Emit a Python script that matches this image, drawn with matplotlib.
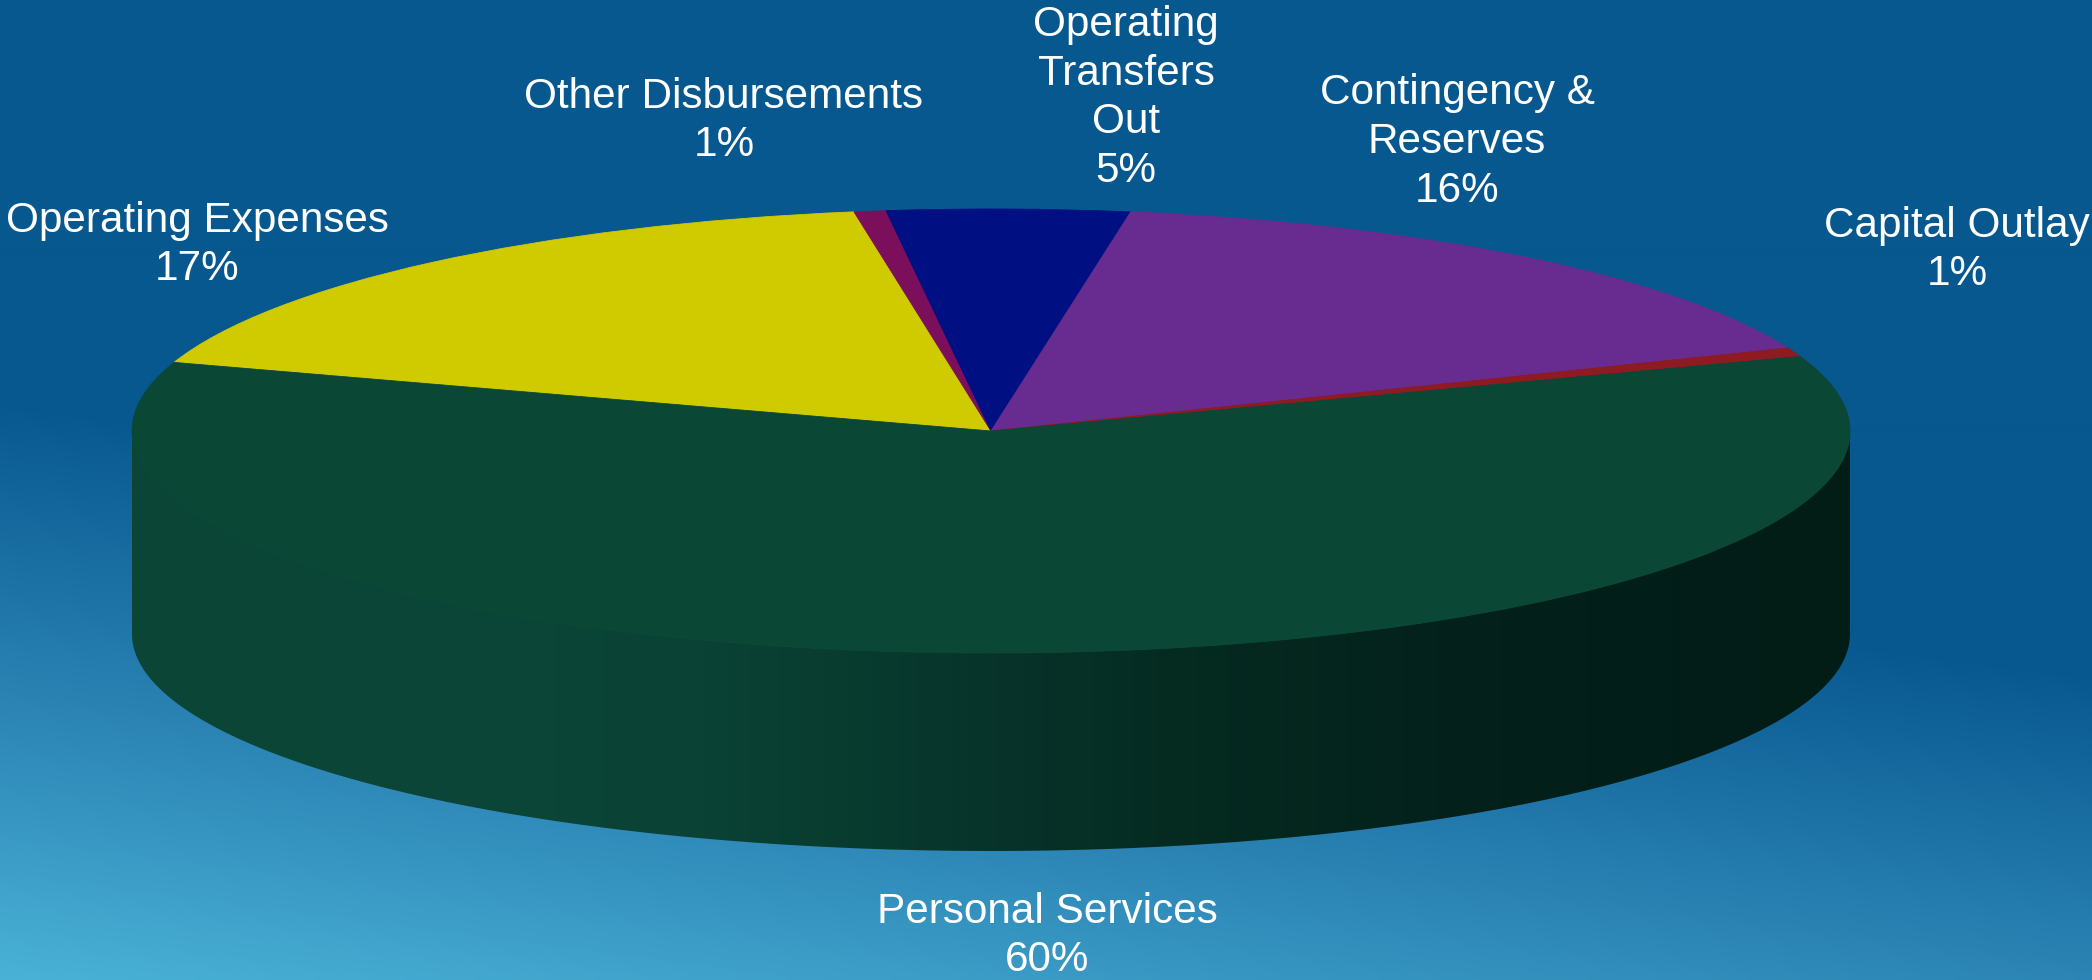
import numpy as np
import matplotlib
matplotlib.use("Agg")
import matplotlib.pyplot as plt
from matplotlib.colors import LinearSegmentedColormap
from matplotlib.patches import PathPatch, Wedge
from matplotlib.path import Path
from matplotlib.transforms import Affine2D

# clockwise from the left edge of the yellow slice
labels = ["Operating Expenses", "Other Disbursements", "Operating\nTransfers\nOut",
          "Contingency &\nReserves", "Capital Outlay", "Personal Services"]
shares = [17.45, 0.6, 4.55, 16.3, 0.65, 60.45]
colors = ["#cfcb00", "#7c0f5c", "#000f82", "#682c90", "#8e1a22", "#0a4735"]
label_xy = [(197, 245), (724, 121), (1126, 98), (1457, 142), (1957, 250), (1047, 936)]

CX, CY = 991, 431
RX, RY = 859, 222
# lower rim of the disc is a little flatter than the top face
RIM_CY, RIM_RY = 634, 217
START = 162

# wall shading along x, in figure pixels
wall_x = [132, 500, 700, 850, 1000, 1200, 1500, 1850]
wall_c = ["#0a4536", "#0a4638", "#0a4235", "#083c2f", "#07332a", "#052a20", "#03201a", "#021c16"]

plt.rcParams["font.family"] = ["Liberation Sans", "DejaVu Sans"]

fig = plt.figure(figsize=(20.92, 9.8), dpi=100)
ax = fig.add_axes([0, 0, 1, 1])
ax.set_xlim(0, 2092)
ax.set_ylim(980, 0)
ax.axis("off")

# slide background, brightening towards the lower left corner
yy, xx = np.mgrid[0:980:2, 0:2092:2]
t = np.clip((yy - 0.13 * xx - 400) / 580, 0, 1)
bg = LinearSegmentedColormap.from_list("bg", ["#07588f", "#2a82b3", "#4ab2d6"])
ax.imshow(t, cmap=bg, vmin=0, vmax=1, extent=(0, 2092, 980, 0), aspect="auto", zorder=0)

# side wall of the disc
theta = np.radians(np.linspace(180, 360, 200))
ex = CX + RX * np.cos(theta)
top_y = CY - RY * np.sin(theta)
rim_y = RIM_CY - RIM_RY * np.sin(theta)
wall_xy = np.r_[np.c_[ex, rim_y], np.c_[ex, top_y][::-1]]
wall = PathPatch(Path(wall_xy), fc="none", ec="none", transform=ax.transData)
ax.add_patch(wall)
stops = [(x - wall_x[0]) / (wall_x[-1] - wall_x[0]) for x in wall_x]
shade = LinearSegmentedColormap.from_list("wall", list(zip(stops, wall_c)))
grad = ax.imshow(np.linspace(0, 1, 300)[None, :], cmap=shade, extent=(wall_x[0], wall_x[-1], 980, 0),
                 aspect="auto", zorder=1)
grad.set_clip_path(wall)

# top face, slices are laid out on the unit circle then squashed
squash = Affine2D().scale(RX, -RY).translate(CX, CY) + ax.transData
ends = START - np.cumsum(shares) * 3.6
starts = np.r_[START, ends[:-1]]
for a0, a1, c in zip(ends, starts, colors):
    ax.add_patch(Wedge((0, 0), 1, a0, a1, fc=c, ec=c, lw=0.6, transform=squash, zorder=2))

for name, pct, (x, y) in zip(labels, shares, label_xy):
    ax.text(x, y, f"{name}\n{pct:.0f}%", color="white", fontsize=30.4, ha="center", va="center",
            linespacing=1.275, zorder=3)

fig.savefig("out.png", dpi=100)
